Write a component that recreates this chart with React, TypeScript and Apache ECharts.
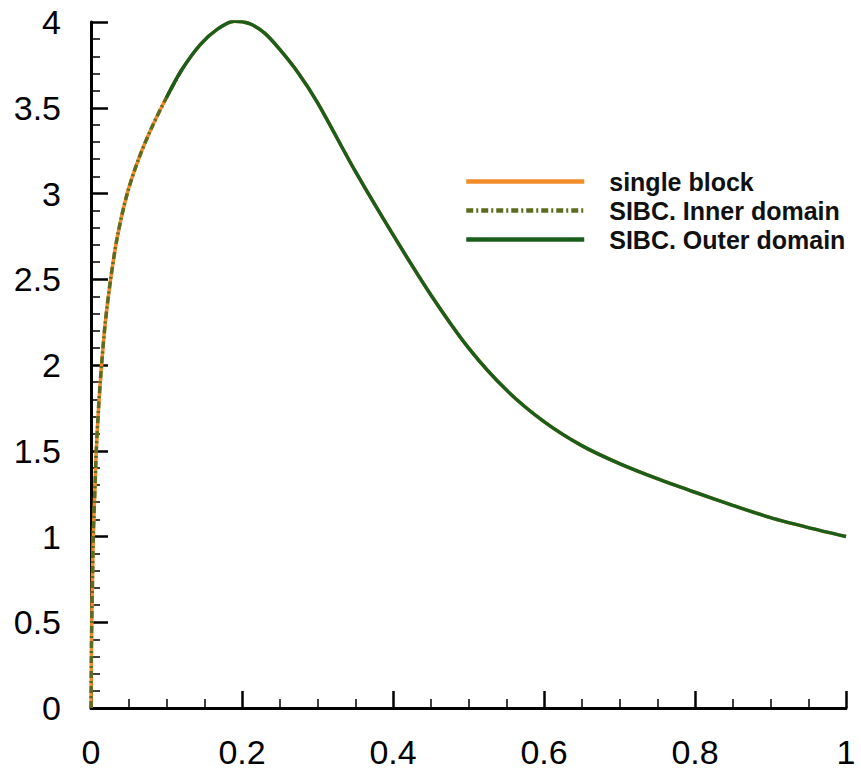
import React, { useEffect, useRef } from "react";
import * as echarts from "echarts";

// Curve samples (x, value)
const xValues = [
  0, 0.0005, 0.001, 0.002, 0.003, 0.005, 0.007, 0.01, 0.014, 0.019, 0.026, 0.035,
  0.048, 0.063, 0.08, 0.1, 0.12, 0.145, 0.168, 0.19, 0.21, 0.23, 0.25, 0.275,
  0.3, 0.35, 0.4, 0.45, 0.5, 0.55, 0.6, 0.65, 0.7, 0.75, 0.8, 0.85, 0.9, 0.95, 1.0,
];
const singleBlockY = [
  0, 0.3, 0.5, 0.75, 1.0, 1.25, 1.5, 1.75, 2.0, 2.25, 2.5, 2.75,
  3.0, 3.2, 3.38, 3.56, 3.72, 3.87, 3.96, 4.005, 3.99, 3.935, 3.84, 3.7,
  3.53, 3.13, 2.76, 2.41, 2.1, 1.855, 1.67, 1.53, 1.425, 1.337, 1.258, 1.182, 1.11, 1.052, 1.0,
];
const innerDomainEnd = 0.12; // inner domain covers x <= this
const outerDomainStart = 0.1; // outer domain covers x >= this

const xTicks = [0, 0.2, 0.4, 0.6, 0.8, 1];
const yTicks = [0, 0.5, 1, 1.5, 2, 2.5, 3, 3.5, 4];

const seriesNames = ["single block", "SIBC. Inner domain", "SIBC. Outer domain"];
const seriesColors = ["#F28C28", "#5C6B1F", "#1B5E1B"];

export default function App() {
  const ref = useRef<HTMLDivElement>(null);
  useEffect(() => {
    if (!ref.current) return;
    const chart = echarts.init(ref.current, undefined, { renderer: "svg" });
    const all = xValues.map((x, i) => [x, singleBlockY[i]]);
    const inner = all.filter((p) => p[0] <= innerDomainEnd);
    const outer = all.filter((p) => p[0] >= outerDomainStart);
    const fmt = (v: number) => String(Math.round(v * 10) / 10);
    const dashDot = [7, 3, 2, 3];
    chart.setOption({
      animation: false,
      backgroundColor: "#ffffff",
      grid: { left: 91, right: 15, top: 22, bottom: 63, containLabel: false },
      legend: {
        orient: "vertical",
        left: 464,
        top: 169,
        padding: 0,
        itemWidth: 118,
        itemHeight: 14,
        itemGap: 4,
        itemStyle: { color: "rgba(0,0,0,0)", borderColor: "rgba(0,0,0,0)", borderWidth: 0 },
        lineStyle: { width: 4.5 },
        data: seriesNames,
        textStyle: {
          fontFamily: "Liberation Sans, Arial, sans-serif",
          fontSize: 25,
          fontWeight: "bold",
          color: "#111",
          padding: [0, 0, 0, 20],
        },
      },
      xAxis: {
        type: "value",
        min: 0,
        max: 1,
        interval: 0.2,
        splitLine: { show: false },
        axisLine: { show: true, onZero: false, lineStyle: { color: "#000", width: 3 } },
        axisTick: { show: true, inside: true, length: 17, lineStyle: { color: "#000", width: 2.5 } },
        minorTick: { show: true, splitNumber: 4, length: 9, lineStyle: { color: "#000", width: 1.5 } },
        axisLabel: {
          margin: 27,
          fontFamily: "Liberation Sans, Arial, sans-serif",
          fontSize: 34,
          color: "#000",
          formatter: fmt,
          customValues: xTicks,
        },
      },
      yAxis: {
        type: "value",
        min: 0,
        max: 4,
        interval: 0.5,
        splitLine: { show: false },
        axisLine: { show: true, onZero: false, lineStyle: { color: "#000", width: 3 } },
        axisTick: { show: true, inside: true, length: 17, lineStyle: { color: "#000", width: 2.5 } },
        minorTick: { show: true, splitNumber: 5, length: 9, lineStyle: { color: "#000", width: 1.5 } },
        axisLabel: {
          margin: 30,
          fontFamily: "Liberation Sans, Arial, sans-serif",
          fontSize: 34,
          color: "#000",
          formatter: fmt,
          customValues: yTicks,
        },
      },
      series: [
        {
          name: seriesNames[0],
          type: "line",
          data: all,
          showSymbol: false,
          symbol: "none",
          smooth: 0.3,
          lineStyle: { color: seriesColors[0], width: 3.5 },
          itemStyle: { color: seriesColors[0] },
          z: 2,
        },
        {
          name: seriesNames[1],
          type: "line",
          data: inner,
          showSymbol: false,
          symbol: "none",
          smooth: 0.3,
          lineStyle: { color: seriesColors[1], width: 3.5, type: dashDot },
          itemStyle: { color: seriesColors[1] },
          z: 3,
        },
        {
          name: seriesNames[2],
          type: "line",
          data: outer,
          showSymbol: false,
          symbol: "none",
          smooth: 0.3,
          lineStyle: { color: seriesColors[2], width: 3.5 },
          itemStyle: { color: seriesColors[2] },
          z: 4,
        },
      ],
    });
    return () => chart.dispose();
  }, []);
  return <div ref={ref} style={{ width: 861, height: 771, position: "absolute", left: 0, top: 0 }} />;
}
